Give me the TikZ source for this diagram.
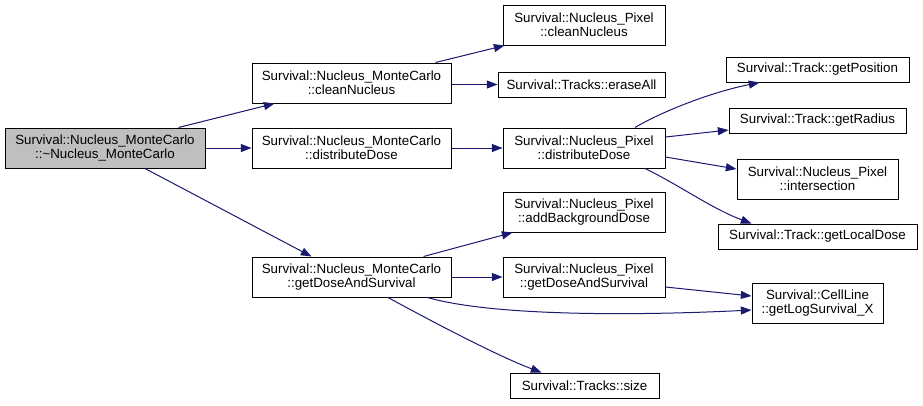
\documentclass[tikz,border=0pt]{standalone}
\usepackage{fontspec}
\setmainfont{Liberation Sans}
\usetikzlibrary{arrows.meta,calc}
\definecolor{edgeblue}{HTML}{191970}
\definecolor{rootgray}{HTML}{BFBFBF}
\begin{document}
\begin{tikzpicture}[x=0.75pt,y=-0.75pt,
  box/.style={draw=black, line width=0.75pt, fill=white, inner sep=0pt, align=center,
    font=\fontsize{10}{10.5}\selectfont},
  tall/.style={minimum height=30pt},
  short/.style={minimum height=18.75pt},
  edge/.style={draw=edgeblue, line width=0.75pt, -{Triangle[length=8pt,width=6pt]}}]
\useasboundingbox (0,0) rectangle (923,405);

\node[box,tall,fill=rootgray,minimum width=150pt] (root) at (105,148) {Survival::Nucleus\_MonteCarlo\\::\textasciitilde Nucleus\_MonteCarlo};
\node[box,tall,minimum width=149.25pt] (mcClean) at (351.5,83) {Survival::Nucleus\_MonteCarlo\\::cleanNucleus};
\node[box,tall,minimum width=149.25pt] (mcDist) at (351.5,148) {Survival::Nucleus\_MonteCarlo\\::distributeDose};
\node[box,tall,minimum width=149.25pt] (mcGet) at (351.5,277) {Survival::Nucleus\_MonteCarlo\\::getDoseAndSurvival};

\node[box,tall,minimum width=121.5pt] (pxClean) at (584,25) {Survival::Nucleus\_Pixel\\::cleanNucleus};
\node[box,short,minimum width=125.25pt] (erase) at (581.5,84.5) {Survival::Tracks::eraseAll};
\node[box,tall,minimum width=121.5pt] (pxDist) at (584,148) {Survival::Nucleus\_Pixel\\::distributeDose};
\node[box,tall,minimum width=121.5pt] (addBg) at (584,212) {Survival::Nucleus\_Pixel\\::addBackgroundDose};
\node[box,tall,minimum width=121.5pt] (pxGet) at (584,277) {Survival::Nucleus\_Pixel\\::getDoseAndSurvival};
\node[box,short,minimum width=111.75pt] (size) at (584.5,385.5) {Survival::Tracks::size};

\node[box,short,minimum width=137.25pt] (getPos) at (817.5,69.5) {Survival::Track::getPosition};
\node[box,short,minimum width=132.75pt] (getRad) at (817.5,120.5) {Survival::Track::getRadius};
\node[box,tall,minimum width=120.75pt] (inter) at (817.5,179) {Survival::Nucleus\_Pixel\\::intersection};
\node[box,short,minimum width=149.25pt] (getLocal) at (817.5,236.5) {Survival::Track::getLocalDose};
\node[box,tall,minimum width=98.25pt] (cellLine) at (817.5,303) {Survival::CellLine\\::getLogSurvival\_X};

% root
\draw[edge] ($(root.north east)+(-27,0)$) -- ($(mcClean.south west)+(23,0)$);
\draw[edge] (root.east) -- (mcDist.west);
\draw[edge] ($(root.south)+(40,0)$) -- ($(mcGet.north west)+(60,0)$);
% cleanNucleus
\draw[edge] ($(mcClean.north east)+(-16,0)$) -- ($(pxClean.south west)+(2,0)$);
\draw[edge] (mcClean.east |- erase.west) -- (erase.west);
% distributeDose
\draw[edge] (mcDist.east) -- (pxDist.west);
\draw[edge] ($(pxDist.north)+(51,0)$) .. controls +(25,-15) and +(-50,10) .. ($(getPos.south west)+(34,0)$);
\draw[edge] ($(pxDist.east)+(0,-11)$) -- ($(getRad.west)+(0,9.5)$);
\draw[edge] ($(pxDist.east)+(0,9)$) -- ($(inter.west)+(0,-10)$);
\draw[edge] ($(pxDist.south)+(61,0)$) .. controls +(35,17) and +(-40,-15) .. ($(getLocal.north west)+(34,0)$);
% getDoseAndSurvival
\draw[edge] ($(mcGet.north east)+(-28,0)$) -- ($(addBg.south west)+(10,0)$);
\draw[edge] (mcGet.east) -- (pxGet.west);
\draw[edge] ($(mcGet.south east)+(-24,0)$) .. controls +(70,20) and +(-100,5) .. ($(cellLine.west)+(0,7)$);
\draw[edge] ($(mcGet.south)+(36.5,0)$) .. controls +(55,30) and +(-40,-15) .. ($(size.north west)+(32,0)$);
\draw[edge] ($(pxGet.east)+(0,10)$) -- ($(cellLine.west)+(0,-7)$);
\end{tikzpicture}
\end{document}
